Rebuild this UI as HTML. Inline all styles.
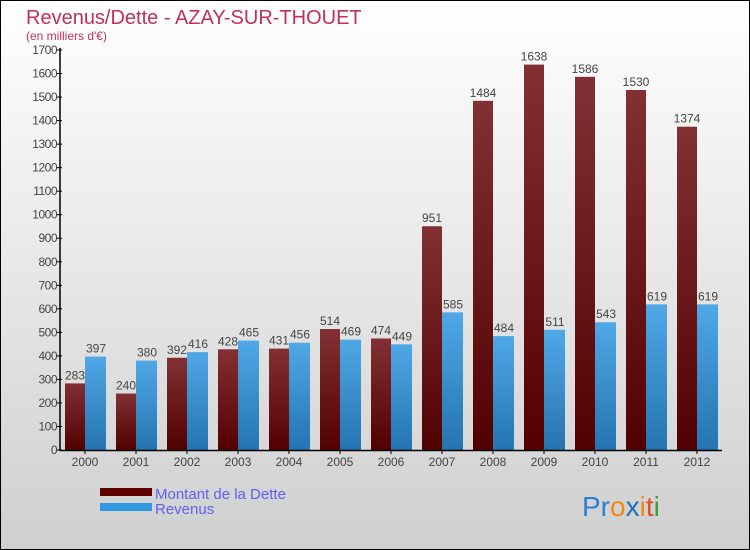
<!DOCTYPE html>
<html><head><meta charset="utf-8"><style>
body{margin:0}
#wrap{position:relative;width:750px;height:550px;overflow:hidden;font-family:"Liberation Sans",sans-serif}
</style></head><body>
<div id="wrap">
<svg id="svg" width="750" height="550" xmlns="http://www.w3.org/2000/svg">
<defs>
<linearGradient id="bg" x1="0" y1="0" x2="0" y2="1"><stop offset="0" stop-color="#ffffff"/><stop offset="1" stop-color="#cfcfcf"/></linearGradient>
<linearGradient id="gd" x1="0" y1="0" x2="0" y2="1"><stop offset="0" stop-color="#833034"/><stop offset="1" stop-color="#520000"/></linearGradient>
<linearGradient id="gr" x1="0" y1="0" x2="0" y2="1"><stop offset="0" stop-color="#50a8e6"/><stop offset="1" stop-color="#2474b0"/></linearGradient>
</defs>
<rect x="0.5" y="0.5" width="749" height="549" fill="url(#bg)" stroke="#000"/>
<text x="26" y="24" font-size="20" fill="#c0305a">Revenus/Dette - AZAY-SUR-THOUET</text>
<text x="26" y="40" font-size="12" fill="#c0305a">(en milliers d'€)</text>
<g id="plot"></g>
<rect x="100" y="488" width="52" height="8" fill="#600000"/>
<text x="155" y="499" font-size="15" fill="#6060ee">Montant de la Dette</text>
<rect x="100" y="503" width="52" height="8" fill="#3098e0"/>
<text x="155" y="514" font-size="15" fill="#6060ee">Revenus</text>
<text x="582" y="516" font-size="28"><tspan fill="#2a7fd4">Pr</tspan><tspan fill="#f08a10">o</tspan><tspan fill="#1a6fc8">x</tspan><tspan fill="#f08a10">i</tspan><tspan fill="#e05020">t</tspan><tspan fill="#30a040">i</tspan></text>
</svg>
</div>
<script>
const categories=["2000","2001","2002","2003","2004","2005","2006","2007","2008","2009","2010","2011","2012"];
const dette=[283,240,392,428,431,514,474,951,1484,1638,1586,1530,1374];
const revenus=[397,380,416,465,456,469,449,585,484,511,543,619,619];
const yTicks=[0,100,200,300,400,500,600,700,800,900,1000,1100,1200,1300,1400,1500,1600,1700];
const NS="http://www.w3.org/2000/svg";
const g=document.getElementById('plot');
const x0=60,y0=450,yMax=1700,ph=400,gw=51;
function y(v){return y0-v/yMax*ph;}
function xg(i){return x0+gw*i;}
function mk(t,a,txt){const e=document.createElementNS(NS,t);for(const k in a)e.setAttribute(k,a[k]);if(txt!==undefined)e.textContent=txt;g.appendChild(e);return e;}
categories.forEach((c,i)=>{
  let r=mk('rect',{x:xg(i)+5,y:y(dette[i]),width:20,height:y0-y(dette[i]),fill:'url(#gd)'});
  
  
  r=mk('rect',{x:xg(i)+25,y:y(revenus[i]),width:21,height:y0-y(revenus[i]),fill:'url(#gr)'});
  
  
  let t=mk('text',{x:xg(i)+15,y:y(dette[i])-4,'font-size':12,fill:'#444','text-anchor':'middle'},dette[i]);
  
  
  t=mk('text',{x:xg(i)+36,y:y(revenus[i])-4,'font-size':12,fill:'#444','text-anchor':'middle'},revenus[i]);
  
  
  t=mk('text',{x:xg(i)+25,y:466,'font-size':12,fill:'#444','text-anchor':'middle'},c);
  
  
  const l=mk('line',{x1:xg(i)+25,x2:xg(i)+25,y1:450,y2:454,stroke:'#000'});
  
  
});
yTicks.forEach(v=>{
  const l=mk('line',{x1:57,x2:62,y1:y(v),y2:y(v),stroke:'#000'});
  
  
  const t=mk('text',{x:57,y:y(v)+4,'font-size':12,fill:'#444','text-anchor':'end','letter-spacing':'-0.5'},v);
  
  
});
let ax=mk('line',{x1:60,x2:60,y1:48,y2:451,stroke:'#000','stroke-width':1.5});


ax=mk('line',{x1:60,x2:722,y1:450.5,y2:450.5,stroke:'#000','stroke-width':1.5});


</script>
</body></html>
